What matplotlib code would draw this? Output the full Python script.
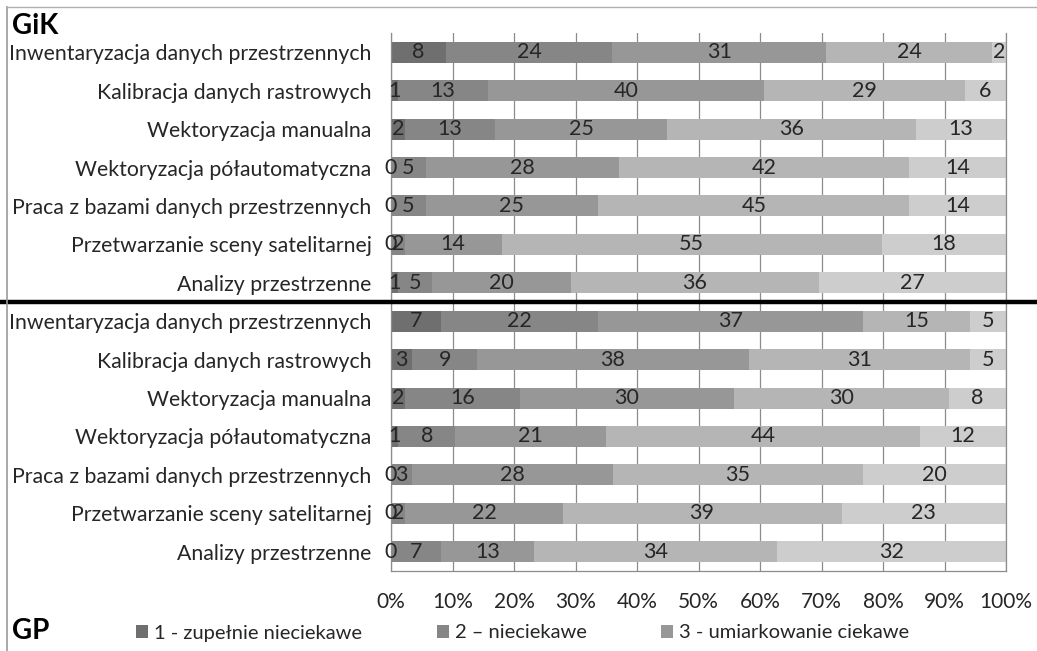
import numpy as np
import matplotlib
matplotlib.use("Agg")
import matplotlib.pyplot as plt
from matplotlib.lines import Line2D

plt.rcParams['font.family'] = ['Lato', 'DejaVu Sans']

categories = ["Inwentaryzacja danych przestrzennych",
              "Kalibracja danych rastrowych",
              "Wektoryzacja manualna",
              "Wektoryzacja półautomatyczna",
              "Praca z bazami danych przestrzennych",
              "Przetwarzanie sceny satelitarnej",
              "Analizy przestrzenne"]

levels = ["1 - zupełnie nieciekawe", "2 – nieciekawe", "3 - umiarkowanie ciekawe",
          "4 - ciekawe", "5 - bardzo ciekawe"]

# counts per category, columns = levels 1..5
gik_counts = [[8, 24, 31, 24, 2],
              [1, 13, 40, 29, 6],
              [2, 13, 25, 36, 13],
              [0, 5, 28, 42, 14],
              [0, 5, 25, 45, 14],
              [0, 2, 14, 55, 18],
              [1, 5, 20, 36, 27]]

gp_counts = [[7, 22, 37, 15, 5],
             [3, 9, 38, 31, 5],
             [2, 16, 30, 30, 8],
             [1, 8, 21, 44, 12],
             [0, 3, 28, 35, 20],
             [0, 2, 22, 39, 23],
             [0, 7, 13, 34, 32]]

colors = ["#6f6f6f", "#868686", "#979797", "#b5b5b5", "#cdcdcd"]
ticks = np.arange(0, 101, 10)

counts = np.array(gik_counts + gp_counts, dtype=float)
pct = counts / counts.sum(axis=1, keepdims=True) * 100
labels = categories + categories
y = np.arange(len(labels))

fig = plt.figure(figsize=(10.37, 6.51), dpi=100)
ax = fig.add_axes([391 / 1037, 1 - 571 / 651, 615 / 1037, 538 / 651])

left = np.zeros(len(labels))
handles = []
for j in range(len(levels)):
    bars = ax.barh(y, pct[:, j], left=left, height=0.55, color=colors[j],
                   label=levels[j], zorder=2)
    ax.bar_label(bars, labels=[str(int(v)) for v in counts[:, j]],
                 label_type='center', fontsize=15.5, color="#262626")
    handles.append(bars)
    left += pct[:, j]

ax.set_xlim(0, 100)
ax.set_ylim(len(labels) - 0.5, -0.5)
ax.set_xticks(ticks)
ax.set_xticklabels([f"{t}%" for t in ticks], fontsize=15, color="#262626")
ax.set_yticks(y)
ax.set_yticklabels(labels, fontsize=15.3, color="#262626")
ax.tick_params(axis='x', length=0, pad=15)
ax.tick_params(axis='y', length=0, pad=14)
ax.grid(axis='x', color="#8c8c8c", linewidth=0.9)
ax.set_axisbelow(True)
for side in ['left', 'bottom', 'right']:
    ax.spines[side].set_color("#8c8c8c")
    ax.spines[side].set_linewidth(0.9)
ax.spines['top'].set_visible(False)

# separator between the two groups
ax.axhline(6.5, xmin=-391 / 615, xmax=646 / 615, color="black",
           linewidth=3.2, clip_on=False, zorder=5)

# outer frame
fig.add_artist(Line2D([7 / 1037, 7 / 1037], [0, 1 - 7 / 651],
                      transform=fig.transFigure, color="#9a9a9a", linewidth=1.2))
fig.add_artist(Line2D([7 / 1037, 1], [1 - 7 / 651, 1 - 7 / 651],
                      transform=fig.transFigure, color="#b0b0b0", linewidth=1.0))

fig.text(12 / 1037, 1 - 26 / 651, "GiK", fontsize=20, fontweight='bold',
         va='center', ha='left', color="black")
fig.text(12 / 1037, 1 - 631 / 651, "GP", fontsize=20, fontweight='bold',
         va='center', ha='left', color="black")

fig.legend(handles=handles[:3], labels=levels[:3], ncol=3, loc='center left',
           bbox_to_anchor=(136 / 1037, 1 - 633 / 651), frameon=False,
           fontsize=14.5, handlelength=0.6, handleheight=0.6, handletextpad=0.3,
           columnspacing=3.7, borderpad=0, borderaxespad=0,
           labelcolor="#262626")

fig.savefig("out.png", dpi=100)
